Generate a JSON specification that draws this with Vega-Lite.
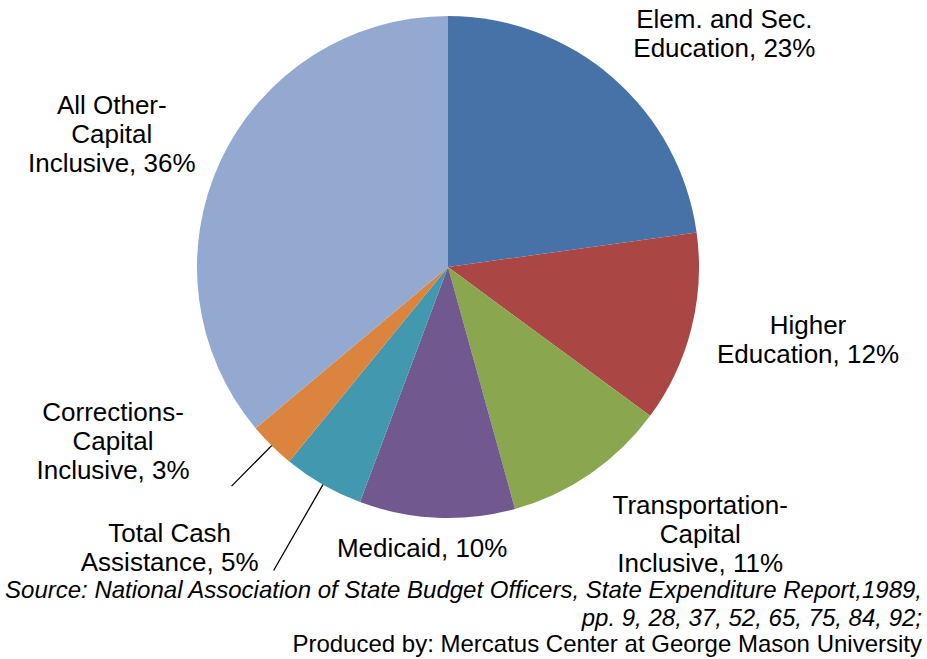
{
  "$schema": "https://vega.github.io/schema/vega-lite/v6.json",
  "width": 896,
  "height": 534,
  "padding": 0,
  "autosize": {"type": "pad"},
  "background": "white",
  "data": {
    "values": [
      {"category": "Elem. and Sec. Education", "value": 22.8, "label": "Elem. and Sec.\nEducation, 23%"},
      {"category": "Higher Education", "value": 12.3, "label": "Higher\nEducation, 12%"},
      {"category": "Transportation-Capital Inclusive", "value": 10.6, "label": "Transportation-\nCapital\nInclusive, 11%"},
      {"category": "Medicaid", "value": 10.0, "label": "Medicaid, 10%"},
      {"category": "Total Cash Assistance", "value": 5.2, "label": "Total Cash\nAssistance, 5%"},
      {"category": "Corrections-Capital Inclusive", "value": 3.0, "label": "Corrections-\nCapital\nInclusive, 3%"},
      {"category": "All Other-Capital Inclusive", "value": 36.1, "label": "All Other-\nCapital\nInclusive, 36%"}
    ]
  },
  "transform": [{"window": [{"op": "row_number", "as": "idx"}]}],
  "title": {
    "text": ["Source: National Association of State Budget Officers, State Expenditure Report,1989,", "pp. 9, 28, 37, 52, 65, 75, 84, 92;"],
    "subtitle": "Produced by: Mercatus Center at George Mason University",
    "orient": "bottom",
    "anchor": "end",
    "frame": "group",
    "dx": 26,
    "offset": 2,
    "font": "Liberation Sans",
    "fontSize": 24,
    "fontStyle": "italic",
    "fontWeight": "normal",
    "lineHeight": 28,
    "color": "black",
    "subtitleFont": "Liberation Sans",
    "subtitleFontSize": 24,
    "subtitleFontStyle": "normal",
    "subtitleColor": "black",
    "subtitlePadding": 2,
    "subtitleLineHeight": 28
  },
  "encoding": {
    "theta": {"field": "value", "type": "quantitative", "stack": true},
    "order": {"field": "idx", "type": "quantitative"}
  },
  "layer": [
    {
      "mark": {"type": "arc", "outerRadius": 251},
      "encoding": {
        "color": {
          "field": "category",
          "type": "nominal",
          "legend": null,
          "scale": {
            "domain": ["Elem. and Sec. Education", "Higher Education", "Transportation-Capital Inclusive", "Medicaid", "Total Cash Assistance", "Corrections-Capital Inclusive", "All Other-Capital Inclusive"],
            "range": ["#4672A7", "#AA4744", "#8AA64F", "#71588F", "#4298AF", "#DB843D", "#94A9CF"]
          }
        }
      }
    },
    {
      "mark": {
        "type": "arc",
        "filled": false,
        "stroke": "black",
        "strokeWidth": 1.3,
        "innerRadius": 251,
        "outerRadius": {"expr": "[251, 251, 251, 251, 350, 308, 251][datum.idx - 1]"},
        "padAngle": 1.5,
        "strokeOpacity": {"expr": "datum.idx == 5 || datum.idx == 6 ? 1 : 0"}
      },
      "encoding": {}
    },
    {
      "mark": {
        "type": "text",
        "font": "Liberation Sans",
        "fontSize": 26,
        "lineHeight": 29,
        "lineBreak": "\n",
        "align": "center",
        "baseline": "middle",
        "color": "black",
        "radius": 360,
        "dx": {"expr": "[40, 11, 48, -10, -99, -82, -10][datum.idx - 1]"},
        "dy": {"expr": "[24.5, -29.5, -57, -78, -45.5, -110, -9][datum.idx - 1]"}
      },
      "encoding": {
        "text": {"field": "label"}
      }
    }
  ],
  "config": {"view": {"stroke": null}}
}
